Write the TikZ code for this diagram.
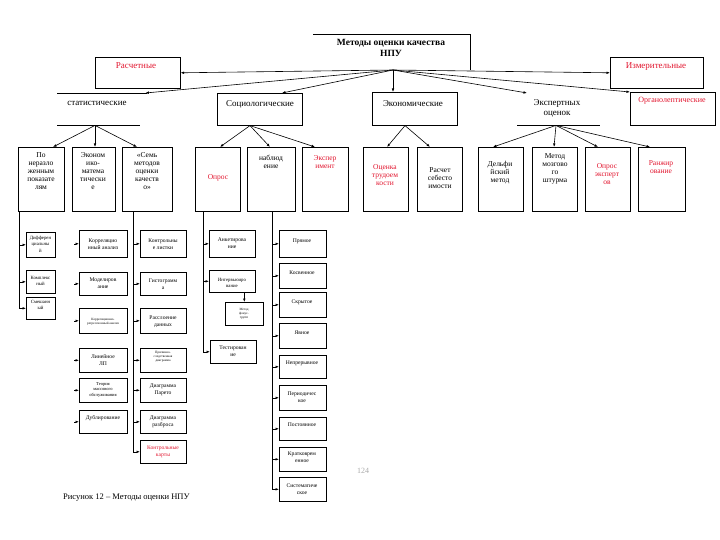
\documentclass[tikz,border=0pt]{standalone}
\usepackage{fontspec}
\setmainfont{Liberation Serif}
\usetikzlibrary{arrows.meta,calc}
\definecolor{redt}{RGB}{225,20,45}
\definecolor{pgnum}{RGB}{170,170,170}
\newcommand\Bx[5]{\node[bx,minimum width=#4pt,minimum height=#5pt] (#1) at (#2,#3) {};}
\begin{document}
\begin{tikzpicture}[x=1pt,y=-1pt,
  bx/.style={draw,line width=0.6pt,inner sep=0pt,anchor=north west},
  ghost/.style={inner sep=0pt,anchor=north west},
  ln/.style={line width=0.6pt},
  arr/.style={line width=0.6pt,-{Latex[length=3.5pt,width=2.6pt]}},
  t1/.style={font=\bfseries\fontsize{9.5}{11}\selectfont,align=center,inner sep=0pt},
  t2/.style={font=\fontsize{9}{10}\selectfont,align=center,inner sep=0pt},
  t3/.style={font=\fontsize{7.5}{8}\selectfont,align=center,inner sep=0pt},
  t4/.style={font=\fontsize{5.6}{7}\selectfont,align=center,inner sep=0pt},
  t4s/.style={font=\fontsize{4.8}{6.5}\selectfont,align=center,inner sep=0pt},
  t5/.style={font=\fontsize{3.3}{4.2}\selectfont,align=center,inner sep=0pt},
  rt/.style={text=redt}]
\useasboundingbox (0,0) rectangle (720,540);

% ---------- level 1
\coordinate (ttl) at (313,34);
\coordinate (ttr) at (470,34);
\coordinate (trb) at (470,70);
\draw[ln] (ttl) -- (ttr) -- (trb);
\node[t1] (title) at (391,48) {Методы оценки качества\\НПУ};
\coordinate (src) at (393,70);

% ---------- level 2
\Bx{rasch}{95}{57}{85}{31}
\node[t2,rt] (trasch) at (136,66) {Расчетные};
\Bx{izm}{610}{57}{93}{31}
\node[t2,rt] (tizm) at (656,67) {Измерительные};
\node[ghost,minimum width=90pt,minimum height=32pt] (stat) at (57,93) {};
\draw[ln] (stat.north west) -- (stat.north east);
\draw[ln] (stat.south west) -- ($(stat.south east)+(-7,0)$);
\node[t2] (tstat) at (97,103) {статистические};
\Bx{soc}{217}{93}{85}{32}
\node[t2] (tsoc) at (260,104) {Социологические};
\Bx{econ}{372}{92}{85}{33}
\node[t2] (tecon) at (413,104) {Экономические};
\node[ghost,minimum width=83pt,minimum height=32pt] (expert) at (517,93) {};
\draw[ln] (expert.south west) -- (expert.south east);
\node[t2] (texpert) at (557,108) {Экспертных\\оценок};
\Bx{organ}{630}{92}{85}{33}
\node[t2,rt,font=\fontsize{8}{9}\selectfont] (torgan) at (672,101) {Органолептические};

\draw[arr] (src) -- (rasch.east);
\draw[arr] (src) -- ($(stat.north east)+(-2,0)$);
\draw[arr] (src) -- ($(soc.north west)+(65,0)$);
\draw[arr] (src) -- (src |- econ.north);
\draw[arr] (src) -- ($(expert.north west)+(10,0)$);
\draw[arr] (src) -- (organ.north west);
\draw[arr] (src) -- (izm.west);

% ---------- level 3
\Bx{po}{18}{147}{46}{64}
\node[t3] (tpo) at (41,171) {По\\неразло\\женным\\показате\\лям};
\Bx{ecm}{72}{147}{43}{64}
\node[t3] (tecm) at (93,171) {Эконом\\ико-\\матема\\тически\\е};
\Bx{sem}{122}{147}{50}{64}
\node[t3] (tsem) at (147,171) {«Семь\\методов\\оценки\\качеств\\о»};
\Bx{opros}{195}{147}{45}{64}
\node[t3,rt] (topros) at (218,178) {Опрос};
\Bx{nabl}{247}{147}{48}{64}
\node[t3] (tnabl) at (271,162) {наблюд\\ение};
\Bx{exper}{302}{147}{46}{64}
\node[t3,rt] (texper) at (325,162) {Экспер\\имент};
\Bx{otr}{363}{147}{45}{64}
\node[t3,rt] (totr) at (385,175) {Оценка\\трудоем\\кости};
\Bx{rss}{417}{147}{45}{64}
\node[t3] (trss) at (440,178) {Расчет\\себесто\\имости};
\Bx{delf}{478}{147}{45}{64}
\node[t3] (tdelf) at (500,173) {Дельфи\\йский\\метод};
\Bx{mozg}{532}{147}{45}{64}
\node[t3] (tmozg) at (555,169) {Метод\\мозгово\\го\\штурма};
\Bx{oexp}{585}{147}{45}{64}
\node[t3,rt] (toexp) at (607,174) {Опрос\\эксперт\\ов};
\Bx{ranz}{638}{147}{47}{64}
\node[t3,rt] (tranz) at (661,167) {Ранжир\\ование};

\coordinate (ss) at ($(stat.south west)+(38,0)$);
\draw[arr] (ss) -- ($(po.north west)+(35,0)$);
\draw[arr] (ss) -- ($(ecm.north west)+(23,0)$);
\draw[arr] (ss) -- ($(sem.north west)+(15,0)$);
\coordinate (so) at ($(soc.south west)+(33,0)$);
\draw[arr] (so) -- ($(opros.north west)+(25,0)$);
\draw[arr] (so) -- ($(nabl.north west)+(23,0)$);
\draw[arr] (so) -- ($(exper.north west)+(13,0)$);
\coordinate (eo) at ($(econ.south west)+(33,0)$);
\draw[arr] (eo) -- ($(otr.north west)+(24,0)$);
\draw[arr] (eo) -- ($(rss.north west)+(13,0)$);
\coordinate (xo) at ($(expert.south west)+(39,0)$);
\draw[arr] (xo) -- ($(delf.north west)+(15,0)$);
\draw[arr] (xo) -- ($(mozg.north west)+(22,0)$);
\draw[arr] (xo) -- ($(oexp.north west)+(13,0)$);
\draw[arr] (xo) -- ($(ranz.north west)+(12,0)$);

% ---------- level 4 : trunks
\coordinate (k1) at ($(po.south west)+(1,0)$);
\coordinate (k2) at (74,211);
\coordinate (k3) at ($(sem.south west)+(11,0)$);
\coordinate (k4) at ($(opros.south west)+(8,0)$);
\coordinate (k5) at ($(nabl.south west)+(25,0)$);

% column 1
\Bx{d1}{26}{232}{29}{25}
\node[t4s] (td1) at (40.5,244) {Дифферен\\циальны\\й};
\Bx{d2}{26}{270}{29}{23}
\node[t4s] (td2) at (40.5,281) {Комплекс\\ный};
\Bx{d3}{26}{297}{29}{22}
\node[t4s] (td3) at (40.5,305) {Смешанн\\ый};
\draw[ln] (k1) -- (k1 |- d3.west);
\foreach \b in {d1,d2,d3} \draw[arr] (k1 |- \b.west) -- (\b.west);

% column 2
\Bx{e1}{79}{230}{48}{27}
\node[t4] (te1) at (103,244) {Корреляцио\\нный анализ};
\Bx{e2}{79}{272}{48}{23}
\node[t4] (te2) at (103,283) {Моделиров\\ание};
\Bx{e3}{79}{308}{48}{25}
\node[t5] (te3) at (103,322) {Корреляционно-\\регрессионный анализ};
\Bx{e4}{79}{348}{48}{24}
\node[t4] (te4) at (103,360) {Линейное\\ЛП};
\Bx{e5}{79}{378}{48}{24}
\node[t5,font=\fontsize{4.5}{5.5}\selectfont] (te5) at (103,390) {Теория\\массового\\обслуживания};
\Bx{e6}{79}{410}{48}{23}
\node[t4] (te6) at (103,418) {Дублирование};
\foreach \b in {e1,e2,e3,e4,e5,e6} \draw[arr] (k2 |- \b.west) -- (\b.west);

% column 3
\Bx{s1}{140}{230}{46}{27}
\node[t4] (ts1) at (163,244) {Контрольны\\е листки};
\Bx{s2}{140}{272}{46}{23}
\node[t4] (ts2) at (163,284) {Гистограмм\\а};
\Bx{s3}{140}{308}{46}{25}
\node[t4] (ts3) at (163,322) {Расслоение\\данных};
\Bx{s4}{140}{348}{46}{24}
\node[t5] (ts4) at (163,357) {Причинно-\\следственная\\диаграмма};
\Bx{s5}{140}{378}{46}{24}
\node[t4] (ts5) at (163,390) {Диаграмма\\Парето};
\Bx{s6}{140}{410}{46}{23}
\node[t4] (ts6) at (163,422) {Диаграмма\\разброса};
\Bx{s7}{140}{440}{46}{23}
\node[t4,rt] (ts7) at (163,452) {Контрольные\\карты};
\draw[ln] (k3) -- (k3 |- s7.west);
\foreach \b in {s1,s2,s3,s4,s5,s6,s7} \draw[arr] (k3 |- \b.west) -- (\b.west);

% column sociological
\Bx{a1}{209}{230}{46}{27}
\node[t4] (ta1) at (232,243) {Анкетирова\\ние};
\Bx{a2}{209}{270}{46}{22}
\node[t4s] (ta2) at (232,283) {Интервьюиро\\вание};
\Bx{a3}{225}{302}{38}{23}
\node[t5] (ta3) at (244,314) {Метод\\фокус-\\групп};
\Bx{a4}{210}{340}{46}{23}
\node[t4] (ta4) at (233,351) {Тестирован\\ие};
\draw[ln] (k4) -- (k4 |- a4.west);
\foreach \b in {a1,a2,a4} \draw[arr] (k4 |- \b.west) -- (\b.west);
\draw[arr] (a3.north |- a2.south) -- (a3.north);

% column observation
\Bx{o1}{279}{230}{47}{27}
\node[t4] (to1) at (302,241) {Прямое};
\Bx{o2}{279}{263}{47}{25}
\node[t4] (to2) at (302,273) {Косвенное};
\Bx{o3}{279}{292}{47}{25}
\node[t4] (to3) at (302,302) {Скрытое};
\Bx{o4}{279}{323}{47}{25}
\node[t4] (to4) at (302,333) {Явное};
\Bx{o5}{279}{355}{47}{23}
\node[t4] (to5) at (302,363) {Непрерывное};
\Bx{o6}{279}{385}{47}{25}
\node[t4] (to6) at (302,397) {Периодичес\\кое};
\Bx{o7}{279}{417}{47}{23}
\node[t4] (to7) at (302,425) {Постоянное};
\Bx{o8}{279}{447}{47}{24}
\node[t4] (to8) at (302,457) {Кратковрем\\енное};
\Bx{o9}{279}{477}{47}{24}
\node[t4] (to9) at (302,489) {Систематиче\\ское};
\draw[ln] (k5) -- (k5 |- o9.west);
\foreach \b in {o1,o2,o3,o4,o5,o6,o7,o8,o9} \draw[arr] (k5 |- \b.west) -- (\b.west);

% ---------- page number and caption
\node[font=\fontsize{8}{9}\selectfont,text=pgnum,inner sep=0pt] (pg) at (363,471) {124};
\node[font=\fontsize{8.5}{10}\selectfont,anchor=west,inner sep=0pt] (cap) at (63,498) {Рисунок 12 – Методы оценки НПУ};
\end{tikzpicture}
\end{document}
